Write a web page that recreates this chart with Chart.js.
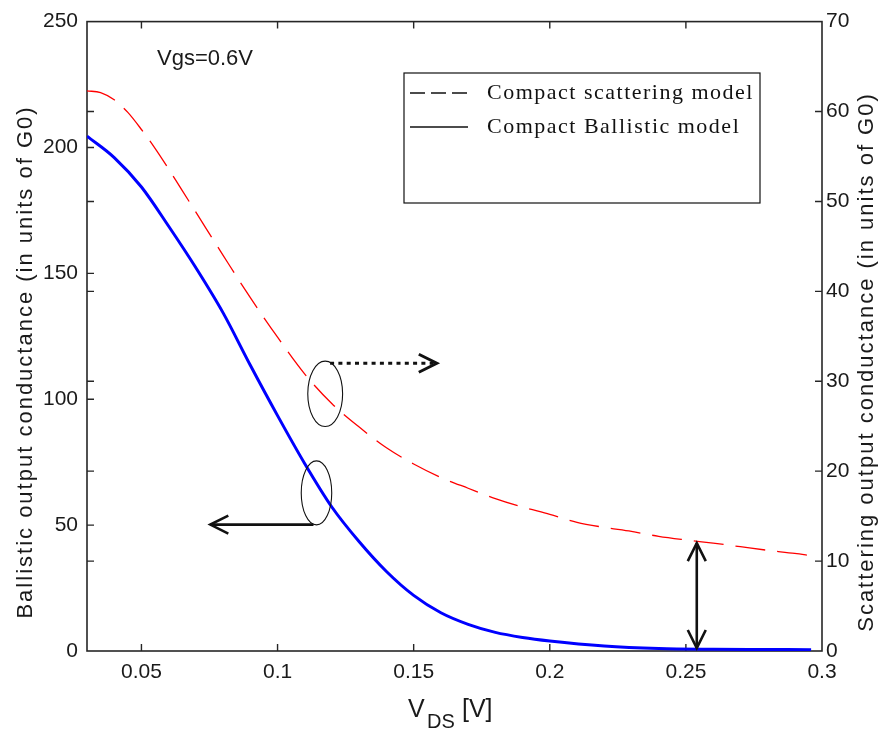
<!DOCTYPE html>
<html><head><meta charset="utf-8">
<script src="https://cdn.jsdelivr.net/npm/chart.js@4.4.0/dist/chart.umd.min.js"></script>
<style>html,body{margin:0;padding:0;background:#fff;}#wrap{width:891px;height:737px;}</style>
</head><body><div id="wrap"><canvas id="c" width="891" height="737"></canvas></div>
<script>
// ---- data ----
const vdsBallistic = [0.03, 0.04, 0.05, 0.06, 0.07, 0.08, 0.09, 0.10, 0.11, 0.12, 0.13, 0.14, 0.15, 0.16, 0.17, 0.18, 0.19, 0.20, 0.22, 0.24, 0.26, 0.28, 0.296];
const gBallistic = [204.5, 196.0, 184.3, 168.7, 152.2, 134.3, 113.5, 93.5, 74.4, 57.1, 43.4, 31.6, 22.1, 15.2, 10.6, 7.4, 5.4, 4.0, 2.0, 1.0, 0.7, 0.6, 0.5];
const vdsScattering = [0.03, 0.035, 0.04, 0.045, 0.05, 0.055, 0.06, 0.065, 0.07, 0.075, 0.08, 0.09, 0.10, 0.11, 0.12, 0.13, 0.14, 0.15, 0.16, 0.17, 0.18, 0.19, 0.20, 0.21, 0.22, 0.23, 0.24, 0.25, 0.26, 0.27, 0.28, 0.29, 0.296];
const gScattering = [62.3, 62.1, 61.3, 59.9, 58.0, 55.9, 53.6, 51.2, 48.8, 46.4, 44.0, 39.3, 34.9, 30.8, 27.5, 24.9, 22.6, 20.8, 19.3, 18.1, 16.95, 16.0, 15.2, 14.3, 13.75, 13.3, 12.75, 12.35, 12.0, 11.6, 11.2, 10.85, 10.6];
const xTicks = [0.05, 0.1, 0.15, 0.2, 0.25, 0.3];
const xTickLabels = ['0.05', '0.1', '0.15', '0.2', '0.25', '0.3'];
const yLeftTicks = [0, 50, 100, 150, 200, 250];
const yRightTicks = [0, 10, 20, 30, 40, 50, 60, 70];
const seriesLabels = ['Compact scattering model', 'Compact Ballistic model'];
const xTitleParts = ['V', 'DS', '[V]'];
const yLeftTitle = 'Ballistic output conductance (in units of G0)';
const yRightTitle = 'Scattering output conductance (in units of G0)';
const noteText = 'Vgs=0.6V';
// annotation anchors (data units)
const ellipseRight = {x: 0.1175, y: 28.6, rx: 0.0064, ry: 3.64};
const ellipseLeft = {x: 0.1143, y: 62.8, rx: 0.0056, ry: 12.7};
const arrowRight = {x0: 0.1193, y: 32.0, x1: 0.1585};
const arrowLeft = {x0: 0.1132, y: 50.2, x1: 0.0753};
const arrowGap = {x: 0.254, y0: 0, y1: 12};

const SANS = "'Liberation Sans', Arial, sans-serif";
const SERIF = "'Liberation Serif', 'Times New Roman', serif";
const INK = '#1a1a1a';

function spaced(ctx, text, x, y, sp) {
  ctx.letterSpacing = sp + 'px';
  ctx.fillText(text, x, y);
  ctx.letterSpacing = '0px';
}
function arrowHead(ctx, tx, ty, dx, dy) {
  const L = 18, H = 9;
  const bx = tx - dx * L, by = ty - dy * L;
  ctx.beginPath();
  ctx.moveTo(bx - dy * H, by + dx * H);
  ctx.lineTo(tx, ty);
  ctx.lineTo(bx + dy * H, by - dx * H);
  ctx.stroke();
}

const framePlugin = {
  id: 'frame',
  beforeDatasetsDraw(chart) {
    const ctx = chart.ctx, {left, right, top, bottom} = chart.chartArea;
    const sx = chart.scales.x, sy = chart.scales.y, sy1 = chart.scales.y1;
    ctx.save();
    ctx.strokeStyle = '#262626';
    ctx.lineWidth = 1.6;
    ctx.strokeRect(left, top, right - left, bottom - top);
    ctx.lineWidth = 1.4;
    const T = 7;
    ctx.beginPath();
    xTicks.forEach(v => {
      const p = sx.getPixelForValue(v);
      if (p >= right - 1) return;
      ctx.moveTo(p, bottom); ctx.lineTo(p, bottom - T);
      ctx.moveTo(p, top); ctx.lineTo(p, top + T);
    });
    yLeftTicks.forEach(v => {
      const p = sy.getPixelForValue(v);
      if (p <= top + 1 || p >= bottom - 1) return;
      ctx.moveTo(left, p); ctx.lineTo(left + T, p);
    });
    yRightTicks.forEach(v => {
      const p = sy1.getPixelForValue(v);
      if (p <= top + 1 || p >= bottom - 1) return;
      ctx.moveTo(right, p); ctx.lineTo(right - T, p);
      ctx.moveTo(left, p); ctx.lineTo(left + T, p);
    });
    ctx.stroke();
    ctx.restore();
  }
};

const decoPlugin = {
  id: 'deco',
  afterDatasetsDraw(chart) {
    const ctx = chart.ctx;
    const sx = chart.scales.x, sy = chart.scales.y, sy1 = chart.scales.y1;
    ctx.save();
    ctx.strokeStyle = '#111';
    ctx.lineWidth = 1.1;
    [[ellipseRight, sy1], [ellipseLeft, sy]].forEach(([e, s]) => {
      const cx = sx.getPixelForValue(e.x), cy = s.getPixelForValue(e.y);
      const rx = sx.getPixelForValue(e.x + e.rx) - cx;
      const ry = s.getPixelForValue(e.y) - s.getPixelForValue(e.y + e.ry);
      ctx.beginPath(); ctx.ellipse(cx, cy, rx, ry, 0, 0, Math.PI * 2); ctx.stroke();
    });
    ctx.lineWidth = 3;
    let y = sy1.getPixelForValue(arrowRight.y);
    let x0 = sx.getPixelForValue(arrowRight.x0), x1 = sx.getPixelForValue(arrowRight.x1);
    ctx.setLineDash([4, 4.3]);
    ctx.beginPath(); ctx.moveTo(x0, y); ctx.lineTo(x1 - 2, y); ctx.stroke();
    ctx.setLineDash([]);
    arrowHead(ctx, x1, y, 1, 0);
    ctx.lineWidth = 2.6;
    y = sy.getPixelForValue(arrowLeft.y);
    x0 = sx.getPixelForValue(arrowLeft.x0); x1 = sx.getPixelForValue(arrowLeft.x1);
    ctx.beginPath(); ctx.moveTo(x0, y); ctx.lineTo(x1, y); ctx.stroke();
    arrowHead(ctx, x1, y, -1, 0);
    const gx = sx.getPixelForValue(arrowGap.x);
    const gy0 = sy1.getPixelForValue(arrowGap.y0) - 3, gy1 = sy1.getPixelForValue(arrowGap.y1);
    ctx.beginPath(); ctx.moveTo(gx, gy0); ctx.lineTo(gx, gy1); ctx.stroke();
    arrowHead(ctx, gx, gy1, 0, -1);
    arrowHead(ctx, gx, gy0, 0, 1);

    // legend box
    const bx = 404, by = 73, bw = 356, bh = 130;
    ctx.lineWidth = 1.2;
    ctx.strokeRect(bx, by, bw, bh);
    const ds = chart.data.datasets;
    const rows = [93, 127];
    ctx.lineWidth = 1.4;
    ds.forEach((d, i) => {
      ctx.setLineDash(d.borderDash ? [15, 6] : []);
      ctx.beginPath(); ctx.moveTo(410, rows[i]); ctx.lineTo(468, rows[i]); ctx.stroke();
    });
    ctx.setLineDash([]);
    ctx.fillStyle = '#111';
    ctx.font = '22px ' + SERIF;
    ctx.textAlign = 'left'; ctx.textBaseline = 'alphabetic';
    ds.forEach((d, i) => spaced(ctx, d.label, 487, rows[i] + 6, 1.5));

    ctx.font = '22px ' + SANS;
    ctx.fillStyle = INK;
    ctx.fillText(noteText, 157, 65);

    ctx.font = '25px ' + SANS;
    ctx.fillText(xTitleParts[0], 408, 717);
    ctx.font = '20px ' + SANS;
    ctx.fillText(xTitleParts[1], 427, 728);
    ctx.font = '25px ' + SANS;
    ctx.fillText(xTitleParts[2], 462, 717);

    ctx.font = '22px ' + SANS;
    ctx.textAlign = 'center'; ctx.textBaseline = 'middle';
    const cy = 362;
    ctx.save(); ctx.translate(26, cy); ctx.rotate(-Math.PI / 2); spaced(ctx, yLeftTitle, 0, 0, 2.0); ctx.restore();
    ctx.save(); ctx.translate(867, cy); ctx.rotate(-Math.PI / 2); spaced(ctx, yRightTitle, 0, 0, 2.0); ctx.restore();
    ctx.restore();
  }
};

const tickFont = {family: SANS, size: 21};
new Chart(document.getElementById('c').getContext('2d'), {
  type: 'line',
  data: {
    datasets: [
      {label: seriesLabels[0], data: vdsScattering.map((x, i) => ({x, y: gScattering[i]})), yAxisID: 'y1',
       borderColor: '#ff0000', borderWidth: 1.3, borderDash: [30, 12], pointRadius: 0, cubicInterpolationMode: 'monotone', fill: false},
      {label: seriesLabels[1], data: vdsBallistic.map((x, i) => ({x, y: gBallistic[i]})), yAxisID: 'y',
       borderColor: '#0000ff', borderWidth: 3, pointRadius: 0, cubicInterpolationMode: 'monotone', fill: false}
    ]
  },
  options: {
    responsive: false, animation: false, devicePixelRatio: 1,
    layout: {padding: {top: 19, left: 0, right: 0, bottom: 0}},
    plugins: {legend: {display: false}, tooltip: {enabled: false}},
    scales: {
      x: {type: 'linear', min: 0.03, max: 0.3,
          afterBuildTicks: s => { s.ticks = xTicks.map(v => ({value: v})); },
          ticks: {callback: (v, i) => xTickLabels[i], font: tickFont, color: INK, padding: 9, maxRotation: 0, autoSkip: false},
          grid: {display: false, drawTicks: false, tickLength: 0}, border: {display: false},
          afterFit: s => { s.height = 86; }},
      y: {type: 'linear', position: 'left', min: 0, max: 250,
          afterBuildTicks: s => { s.ticks = yLeftTicks.map(v => ({value: v})); },
          ticks: {font: tickFont, color: INK, padding: 9},
          grid: {display: false, drawTicks: false, tickLength: 0}, border: {display: false},
          afterFit: s => { s.width = 87; }},
      y1: {type: 'linear', position: 'right', min: 0, max: 70,
          afterBuildTicks: s => { s.ticks = yRightTicks.map(v => ({value: v})); },
          ticks: {font: tickFont, color: INK, padding: 4},
          grid: {display: false, drawTicks: false, tickLength: 0}, border: {display: false},
          afterFit: s => { s.width = 69; }}
    }
  },
  plugins: [framePlugin, decoPlugin]
});
</script></body></html>
